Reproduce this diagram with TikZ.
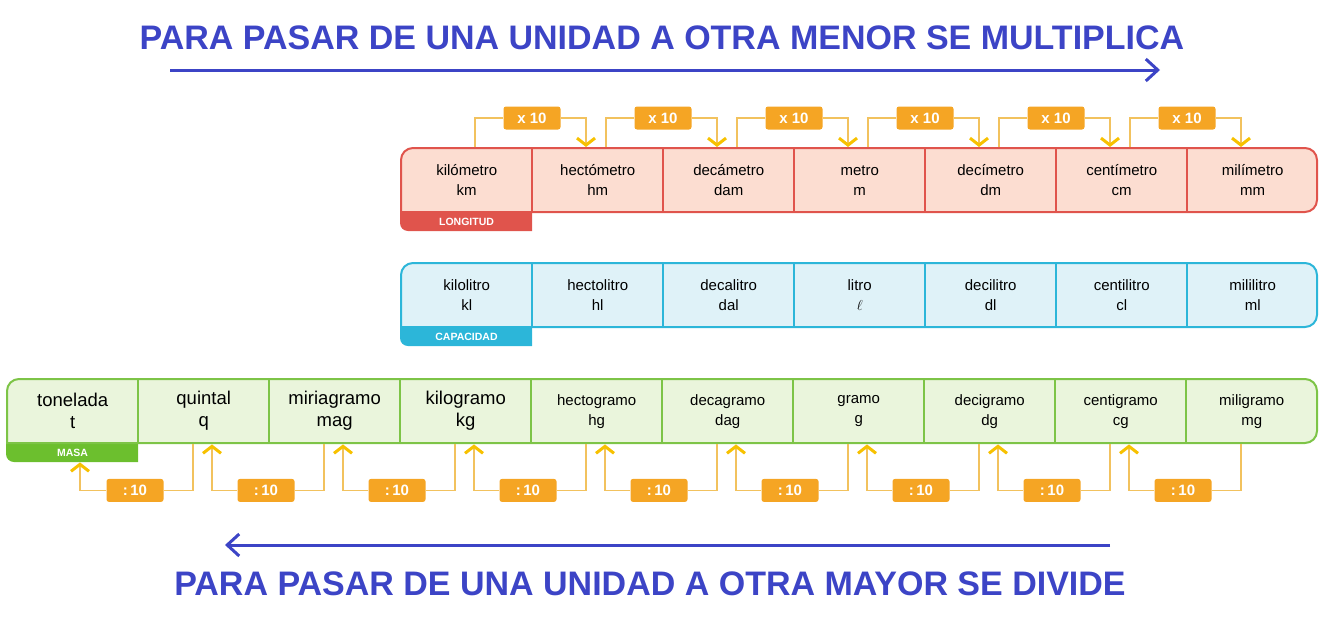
\documentclass[tikz,border=0pt]{standalone}
\usepackage{fontspec}
\setmainfont{Liberation Sans}
\usetikzlibrary{arrows.meta,calc}
\definecolor{hblue}{HTML}{3C44C6}
\definecolor{lred}{HTML}{E0544C}\definecolor{lredf}{HTML}{FCDDD1}
\definecolor{lcyan}{HTML}{2CB6D9}\definecolor{lcyanf}{HTML}{DFF2F8}
\definecolor{lgreen}{HTML}{7DC447}\definecolor{lgreenf}{HTML}{EAF5DC}
\definecolor{tgreen}{HTML}{6CBF2E}
\definecolor{obox}{HTML}{F5A524}\definecolor{oline}{HTML}{F2C25E}\definecolor{ohead}{HTML}{F7C100}
\begin{document}
\begin{tikzpicture}[x=1pt,y=-1pt,
 cell/.style={minimum width=131pt,minimum height=64pt,inner sep=0pt,align=center,font=\fontsize{15}{20}\selectfont,anchor=north west},
 bigcell/.style={cell,font=\fontsize{18.5}{22}\selectfont},
 head/.style={font=\bfseries\fontsize{34}{38}\selectfont,text=hblue},
 tabtxt/.style={font=\bfseries\fontsize{10.5}{12}\selectfont,text=white},
 obx/.style={fill=obox,rounded corners=2.5pt,minimum width=57pt,minimum height=23pt,inner sep=0pt,text=white,font=\bfseries\fontsize{15}{17}\selectfont},
 line/.style={draw=oline,line width=1.5pt},
 conn/.style={line,-{Straight Barb[length=7pt,width=18pt,line width=3pt,color=ohead]}},
 bigarr/.style={draw=hblue,line width=3pt,-{Straight Barb[length=12pt,width=22pt,line width=3pt]}}]
\useasboundingbox (0,0) rectangle (1335,624);
% headings
\node[head] (h1) at (662,38) {PARA PASAR DE UNA UNIDAD A OTRA MENOR SE MULTIPLICA};
\node[head] (h2) at (650,584) {PARA PASAR DE UNA UNIDAD A OTRA MAYOR SE DIVIDE};
\coordinate (a1s) at (170,70); \coordinate (a1e) at (1160,70);
\coordinate (a2s) at (1110,545); \coordinate (a2e) at (225,545);
\draw[bigarr] (a1s) -- (a1e);
\draw[bigarr] (a2s) -- (a2e);
% row frames
\newcommand{\rowframe}[7]{% x0,y0,x1,stroke,fill,tabcol,label
 \fill[#6] (#1-1,#2+50) -- (#1-1,#2+75) arc[start angle=180,end angle=90,radius=8] -- (#1+131,#2+83) -- (#1+131,#2+50) -- cycle;
 \draw[#4,fill=#5,line width=2pt] (#1,#2+64) -- (#1,#2+12) arc[start angle=180,end angle=270,radius=12] -- (#3-12,#2) arc[start angle=270,end angle=360,radius=12] -- (#3,#2+52) arc[start angle=0,end angle=90,radius=12] -- cycle;
 \node[tabtxt] at (#1+65.5,#2+74) {#7};}
\rowframe{401}{148}{1317}{lred}{lredf}{lred}{LONGITUD}
\rowframe{401}{263}{1317}{lcyan}{lcyanf}{lcyan}{CAPACIDAD}
\rowframe{7}{379}{1317}{lgreen}{lgreenf}{tgreen}{MASA}
% cells
\foreach \t [count=\i from 0] in {kilómetro\\km,hectómetro\\hm,decámetro\\dam,metro\\m,decímetro\\dm,centímetro\\cm,milímetro\\mm}{
 \node[cell] (L\i) at (401+131*\i,148) {\t};
 \ifnum\i>0 \draw[lred,line width=2pt] (L\i.north west) -- (L\i.south west);\fi}
\foreach \t [count=\i from 0] in {kilolitro\\kl,hectolitro\\hl,decalitro\\dal,litro\\$\ell$,decilitro\\dl,centilitro\\cl,mililitro\\ml}{
 \node[cell] (C\i) at (401+131*\i,263) {\t};
 \ifnum\i>0 \draw[lcyan,line width=2pt] (C\i.north west) -- (C\i.south west);\fi}
\foreach \t/\s [count=\i from 0] in {tonelada\\t/bigcell,quintal\\q/bigcell,miriagramo\\mag/bigcell,kilogramo\\kg/bigcell,hectogramo\\hg/cell,decagramo\\dag/cell,gramo\\g/cell,decigramo\\dg/cell,centigramo\\cg/cell,miligramo\\mg/cell}{
 \node[\s] (M\i) at (7+131*\i,379) {\t};
 \ifnum\i>0 \draw[lgreen,line width=2pt] (M\i.north west) -- (M\i.south west);\fi}
% multiply connectors
\foreach \i [evaluate=\i as \j using int(\i+1)] in {0,...,5}{
 \node[obx] (X\i) at ($(L\j.north west)+(0,-30)$) {x 10};
 \draw[line] ($(L\i.north west)+(74,-1)$) |- (X\i.west);
 \draw[conn] (X\i.east) -| ($(L\j.north west)+(54,-1)$);}
% divide connectors
\foreach \i [evaluate=\i as \j using int(\i+1)] in {0,...,8}{
 \node[obx] (D\i) at ($(M\j.south west)+(-3,47)$) {:\,10};
 \draw[line] ($(M\j.south west)+(55,1)$) |- (D\i.east);
 \draw[conn] (D\i.west) -| ($(M\i.south west)+(\ifnum\i=0 73\else 74\fi,\ifnum\i=0 19\else 1\fi)$);}
\end{tikzpicture}
\end{document}
